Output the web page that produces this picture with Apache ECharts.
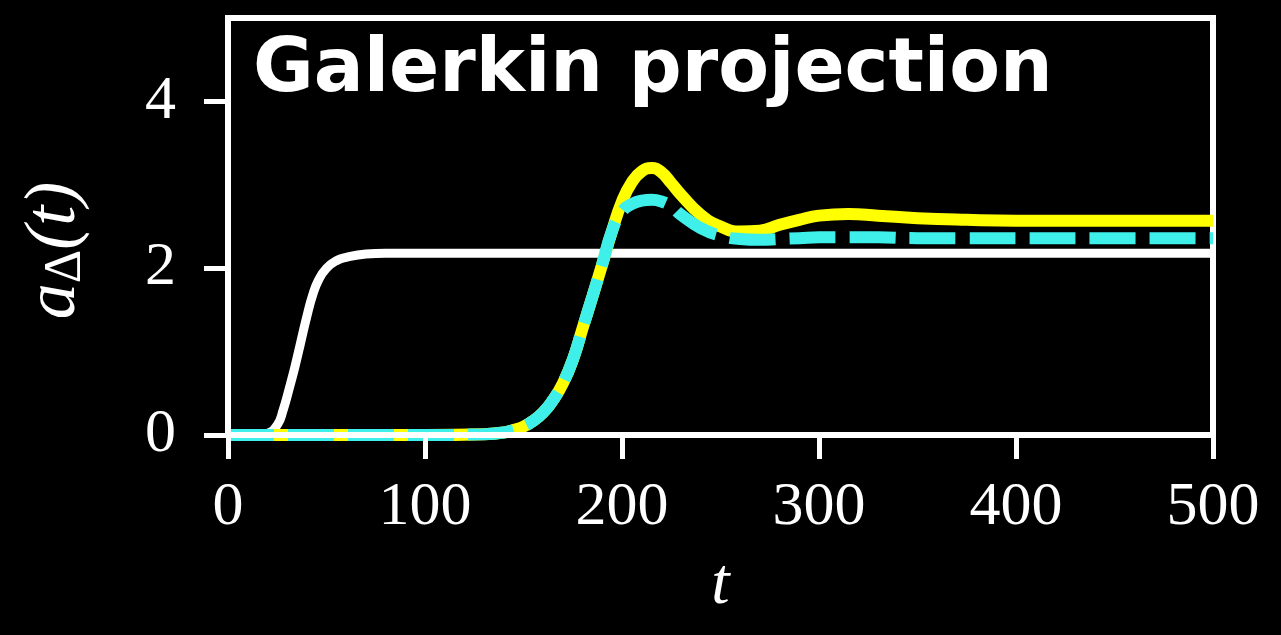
<!DOCTYPE html>
<html>
<head>
<meta charset="utf-8">
<script src="https://cdn.jsdelivr.net/npm/echarts@6/dist/echarts.min.js"></script>
<style>
  html, body { margin: 0; padding: 0; background: #000; }
  #chart { width: 1281px; height: 635px; }
</style>
</head>
<body>
<div id="chart"></div>
<script>
// white curve (its own time grid)
const tWhite = [0, 15, 20, 25, 28, 31, 34, 37, 40, 43, 46, 50, 55, 60, 70, 80, 100, 200, 300, 400, 500];
const yWhite = [0, 0, 0.02, 0.12, 0.3, 0.55, 0.82, 1.12, 1.42, 1.68, 1.86, 2.0, 2.09, 2.13, 2.17, 2.18, 2.18, 2.18, 2.18, 2.18, 2.18];

// yellow (solid) and cyan (dashed) share a time grid
const tSim = [0, 100, 130, 140, 145, 150, 155, 160, 165, 170, 175, 180, 185, 190, 195, 200, 205, 210, 215, 220,
    225, 230, 240, 250, 260, 270, 280, 290, 300, 315, 330, 350, 375, 400, 450, 500];
const yYellow = [0, 0, 0.01, 0.03, 0.06, 0.1, 0.17, 0.27, 0.42, 0.62, 0.9, 1.28, 1.66, 2.05, 2.45, 2.8, 3.03, 3.16, 3.2, 3.15,
    3.02, 2.88, 2.64, 2.5, 2.44, 2.45, 2.52, 2.58, 2.63, 2.65, 2.63, 2.6, 2.58, 2.57, 2.57, 2.57];
const yCyan = [0, 0, 0.01, 0.03, 0.06, 0.1, 0.17, 0.27, 0.42, 0.62, 0.9, 1.28, 1.66, 2.05, 2.45, 2.68, 2.77, 2.81, 2.82, 2.8,
    2.74, 2.64, 2.48, 2.39, 2.35, 2.34, 2.35, 2.36, 2.37, 2.37, 2.37, 2.36, 2.36, 2.36, 2.36, 2.36];

const xTicks = [0, 100, 200, 300, 400, 500];
const yTicks = [0, 2, 4];

const zip = (xs, ys) => xs.map((x, i) => [x, ys[i]]);

const chart = echarts.init(document.getElementById('chart'));
const serifFont = '"Liberation Serif", "DejaVu Serif", serif';

chart.setOption({
    backgroundColor: '#000',
    animation: false,
    title: {
        text: 'Galerkin projection',
        left: 248,
        top: 30,
        textStyle: {
            color: '#fff',
            fontFamily: '"DejaVu Sans", "Open Sans", sans-serif',
            fontWeight: 'bold',
            fontSize: 74,
        },
    },
    grid: {
        left: 228,
        right: 68,
        top: 18,
        bottom: 200,
        show: true,
        borderColor: '#fff',
        borderWidth: 6,
    },
    xAxis: {
        type: 'value',
        min: 0,
        max: 500,
        z: 10,
        splitLine: { show: false },
        axisLine: { show: true, lineStyle: { color: '#fff', width: 6 } },
        axisTick: {
            show: true,
            length: 24,
            customValues: xTicks,
            lineStyle: { color: '#fff', width: 5 },
        },
        axisLabel: {
            customValues: xTicks,
            color: '#fff',
            fontFamily: serifFont,
            fontSize: 62,
            margin: 42,
        },
        name: 't',
        nameLocation: 'middle',
        nameGap: 118,
        nameTextStyle: {
            color: '#fff',
            fontFamily: serifFont,
            fontStyle: 'italic',
            fontSize: 66,
        },
    },
    yAxis: {
        type: 'value',
        min: 0,
        max: 5,
        z: 10,
        splitLine: { show: false },
        axisLine: { show: true, lineStyle: { color: '#fff', width: 6 } },
        axisTick: {
            show: true,
            length: 24,
            customValues: yTicks,
            lineStyle: { color: '#fff', width: 5 },
        },
        axisLabel: {
            customValues: yTicks,
            color: '#fff',
            fontFamily: serifFont,
            fontSize: 62,
            margin: 52,
        },
        name: '{a|a}{d|Δ}{a|(t)}',
        nameLocation: 'middle',
        nameRotate: 90,
        nameGap: 136,
        nameTextStyle: {
            color: '#fff',
            padding: [0, 48, 0, 0],
            rich: {
                a: { color: '#fff', fontFamily: serifFont, fontStyle: 'italic', fontSize: 72 },
                d: { color: '#fff', fontFamily: serifFont, fontSize: 52, padding: [22, 0, 0, 0] },
            },
        },
    },
    series: [
        {
            name: 'white',
            type: 'line',
            data: zip(tWhite, yWhite),
            smooth: 0.5,
            showSymbol: false,
            lineStyle: { color: '#fff', width: 9 },
            z: 2,
        },
        {
            name: 'yellow',
            type: 'line',
            data: zip(tSim, yYellow),
            smooth: 0.5,
            showSymbol: false,
            lineStyle: { color: '#ffff00', width: 12 },
            z: 3,
        },
        {
            name: 'cyan',
            type: 'line',
            data: zip(tSim, yCyan),
            smooth: 0.5,
            showSymbol: false,
            lineStyle: { color: '#3ff0ea', width: 12, type: [46, 14] },
            z: 4,
        },
    ],
});
</script>
</body>
</html>
